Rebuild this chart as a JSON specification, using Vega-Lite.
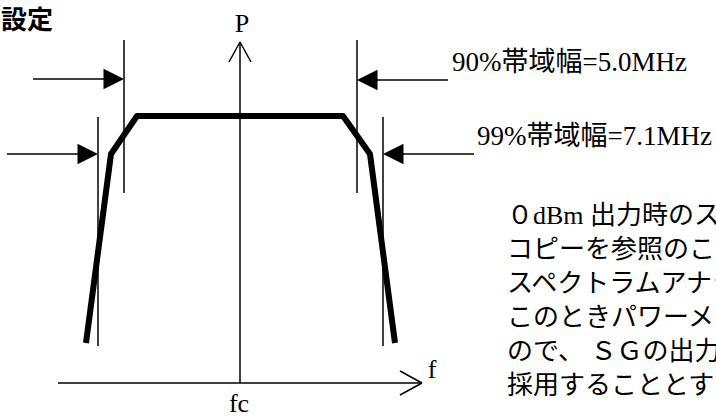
{
  "$schema": "https://vega.github.io/schema/vega-lite/v6.json",
  "width": 716,
  "height": 417,
  "autosize": {"type": "none"},
  "padding": 0,
  "background": "white",
  "config": {"view": {"stroke": null}},
  "datasets": {
    "thin": [
      {"x": 240, "y": 42, "x2": 240, "y2": 383},
      {"x": 58, "y": 383, "x2": 422, "y2": 383},
      {"x": 240, "y": 42, "x2": 229, "y2": 62},
      {"x": 240, "y": 42, "x2": 251, "y2": 62},
      {"x": 422, "y": 383, "x2": 400, "y2": 371},
      {"x": 422, "y": 383, "x2": 400, "y2": 395},
      {"x": 124, "y": 40, "x2": 124, "y2": 193},
      {"x": 357, "y": 40, "x2": 357, "y2": 193},
      {"x": 98, "y": 117, "x2": 98, "y2": 346},
      {"x": 383, "y": 117, "x2": 383, "y2": 346},
      {"x": 33, "y": 79, "x2": 110, "y2": 79},
      {"x": 7, "y": 154, "x2": 84, "y2": 154},
      {"x": 372, "y": 80, "x2": 448, "y2": 80},
      {"x": 397, "y": 154, "x2": 474, "y2": 154}
    ],
    "heads": [
      {"x": 124, "y": 79, "dir": "right"},
      {"x": 98, "y": 154, "dir": "right"},
      {"x": 357, "y": 80, "dir": "left"},
      {"x": 383, "y": 154, "dir": "left"}
    ],
    "spectrum": [
      {"i": 1, "x": 86, "y": 343},
      {"i": 2, "x": 111, "y": 154},
      {"i": 3, "x": 137, "y": 116},
      {"i": 4, "x": 343, "y": 116},
      {"i": 5, "x": 370, "y": 154},
      {"i": 6, "x": 395, "y": 343}
    ],
    "title": [{"x": 1, "y": 21, "label": "設定"}],
    "axislabels": [
      {"x": 242, "y": 32, "label": "P"},
      {"x": 239, "y": 412, "label": "fc"},
      {"x": 432, "y": 378, "label": "f"}
    ],
    "bands": [
      {"x": 452, "y": 71, "label": "90%帯域幅=5.0MHz"},
      {"x": 477, "y": 145, "label": "99%帯域幅=7.1MHz"}
    ],
    "note": [
      {"x": 507, "y": 216, "label": "０dBm 出力時のス"},
      {"x": 507, "y": 250, "label": "コピーを参照のこと"},
      {"x": 507, "y": 284, "label": "スペクトラムアナラ"},
      {"x": 507, "y": 318, "label": "このときパワーメー"},
      {"x": 507, "y": 352, "label": " ので、 ＳＧの出力"},
      {"x": 507, "y": 386, "label": "採用することとす"}
    ]
  },
  "layer": [
    {
      "data": {"name": "thin"},
      "mark": {"type": "rule", "color": "black", "strokeWidth": 1.5},
      "encoding": {
        "x": {"field": "x", "type": "quantitative", "scale": {"domain": [0, 716], "nice": false, "zero": false}, "axis": null},
        "y": {"field": "y", "type": "quantitative", "scale": {"domain": [0, 417], "nice": false, "zero": false, "reverse": true}, "axis": null},
        "x2": {"field": "x2"},
        "y2": {"field": "y2"}
      }
    },
    {
      "data": {"name": "spectrum"},
      "mark": {"type": "line", "color": "black", "strokeWidth": 6, "strokeJoin": "round"},
      "encoding": {
        "x": {"field": "x", "type": "quantitative"},
        "y": {"field": "y", "type": "quantitative"},
        "order": {"field": "i", "type": "quantitative"}
      }
    },
    {
      "data": {"name": "heads"},
      "mark": {"type": "point", "filled": true, "color": "black", "opacity": 1, "size": 420, "strokeWidth": 0},
      "encoding": {
        "x": {"field": "x", "type": "quantitative"},
        "y": {"field": "y", "type": "quantitative"},
        "shape": {"field": "dir", "type": "nominal", "legend": null, "scale": {"domain": ["right", "left"], "range": ["M0,0L-2,-1L-2,1Z", "M0,0L2,-1L2,1Z"]}}
      }
    },
    {
      "data": {"name": "title"},
      "mark": {"type": "text", "align": "left", "baseline": "middle", "font": "Noto Sans CJK JP", "fontWeight": "bold", "fontSize": 26, "color": "black"},
      "encoding": {
        "x": {"field": "x", "type": "quantitative"},
        "y": {"field": "y", "type": "quantitative"},
        "text": {"field": "label"}
      }
    },
    {
      "data": {"name": "axislabels"},
      "mark": {"type": "text", "align": "center", "baseline": "alphabetic", "font": "Liberation Serif", "fontSize": 26, "color": "black"},
      "encoding": {
        "x": {"field": "x", "type": "quantitative"},
        "y": {"field": "y", "type": "quantitative"},
        "text": {"field": "label"}
      }
    },
    {
      "data": {"name": "bands"},
      "mark": {"type": "text", "align": "left", "baseline": "alphabetic", "font": "Liberation Serif, Noto Sans CJK JP", "fontSize": 27, "color": "black"},
      "encoding": {
        "x": {"field": "x", "type": "quantitative"},
        "y": {"field": "y", "type": "quantitative"},
        "text": {"field": "label"}
      }
    },
    {
      "data": {"name": "note"},
      "mark": {"type": "text", "align": "left", "baseline": "middle", "font": "Liberation Serif, Noto Sans CJK JP", "fontSize": 26, "color": "black"},
      "encoding": {
        "x": {"field": "x", "type": "quantitative"},
        "y": {"field": "y", "type": "quantitative"},
        "text": {"field": "label"}
      }
    }
  ]
}
